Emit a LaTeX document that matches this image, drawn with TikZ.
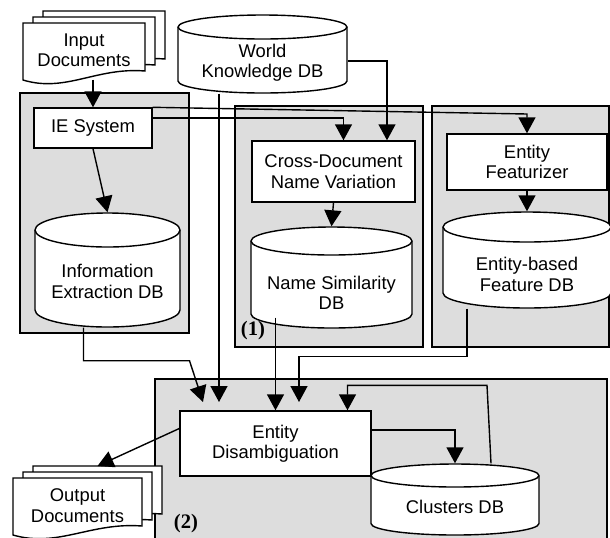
\documentclass[tikz,border=0pt]{standalone}
\usepackage{fontspec}
\setmainfont{Liberation Sans}
\newfontfamily\numfont{Liberation Serif}
\usetikzlibrary{arrows.meta,calc}

\definecolor{panelgray}{RGB}{221,221,221}

% database drum: name, cx, top, bottom, rx, ry, text y, text
\newcommand{\dbcyl}[8]{%
	\draw[fill=white] (#2-#5,#3+#6) -- (#2-#5,#4-#6)
		arc[start angle=180,end angle=360,x radius=#5*0.5pt,y radius=#6*0.5pt]
		-- (#2+#5,#3+#6)
		arc[start angle=0,end angle=180,x radius=#5*0.5pt,y radius=#6*0.5pt] -- cycle;
	\draw (#2-#5,#3+#6) arc[start angle=180,end angle=360,x radius=#5*0.5pt,y radius=#6*0.5pt];
	\node[inner sep=0pt,minimum width=#5*1pt,minimum height=(#4-#3)*0.5pt] (#1) at (#2,{(#3+#4)/2}) {};
	\node[txt] (#1-t) at (#2,#7) {#8};
}
% one sheet: left, top, width
\newcommand{\docsheet}[3]{%
	\draw[fill=white] (#1,#2) -- (#1+#3,#2) -- (#1+#3,#2+48)
		.. controls (#1+0.6*#3,#2+44) and (#1+0.35*#3,#2+70) .. (#1,#2+57) -- cycle;
}
\newcommand{\docstack}[5]{%
	\docsheet{#2+20}{#3-12}{#4}
	\docsheet{#2+10}{#3-6}{#4}
	\docsheet{#2}{#3}{#4}
	\node[txt,minimum width=#4*0.5pt,minimum height=28.5pt] (#1) at (#2+#4/2,#3+27.5) {#5};
	\coordinate (#1 back) at (#2+20+#4/2,#3-12);
}

\begin{document}
\begin{tikzpicture}[x=0.5pt,y=-0.5pt,line width=0.7pt,
		txt/.style={font=\fontsize{9.2}{10.2}\selectfont,align=center,inner sep=0pt},
		box/.style={draw,fill=white,txt},
		panel/.style={draw,fill=panelgray},
		arr/.style={-{Triangle[length=8pt,width=8.5pt]}},
		tag/.style={font=\numfont\fontsize{10.3}{11}\selectfont\bfseries,inner sep=0pt}]
	\useasboundingbox (0,0) rectangle (610,537);
	\clip (0,0) rectangle (610,537);

	\draw[panel] (20,93) rectangle (189,333);
	\draw[panel] (235,106) rectangle (423,347);
	\draw[panel] (432,106) rectangle (609,347);
	\draw[panel] (155,379) rectangle (607,545);

	\docstack{indoc}{23}{23}{122}{Input\\Documents}
	\docstack{outdoc}{13}{478}{129}{Output\\Documents}

	\node[box,minimum width=59pt,minimum height=20pt] (ie) at (93,128) {IE System};
	\node[box,minimum width=81.5pt,minimum height=30.5pt] (cross) at (333.5,171.5) {Cross-Document\\Name Variation};
	\node[box,minimum width=80pt,minimum height=28pt] (feat) at (527,162) {Entity\\Featurizer};
	\node[box,minimum width=95.5pt,minimum height=32.5pt] (ed) at (275.5,443.5) {Entity\\Disambiguation};

	\dbcyl{world}{262.5}{15}{93}{84.5}{12}{62.5}{World\\Knowledge DB}
	\dbcyl{iedb}{107.5}{213}{327}{72.5}{17}{281.5}{Information\\Extraction DB}
	\dbcyl{ns}{331.5}{227}{328}{80.5}{14}{293}{Name Similarity\\DB}
	\dbcyl{ef}{527}{212}{308}{84}{15}{274.5}{Entity-based\\Feature DB}
	\dbcyl{cl}{455}{464}{535}{84}{11.5}{507.3}{Clusters DB}

	\node[tag] (tag1) at (253,331) {(1)};
	\node[tag] (tag2) at (186,524) {(2)};

	\coordinate (in1) at (203,402);
	\coordinate (in2) at (219,402);
	\coordinate (in4) at (299,402);
	\coordinate (featin) at (527,114);

	\draw[arr] (ie.north |- indoc.south) -- (ie.north);
	\draw[arr] (ie.south) -- (iedb.north);
	\draw[arr] (ie.north east) -- (featin) -- (feat.north);
	\draw[arr] ([yshift=5pt]ie.east) -| ([xshift=5pt]cross.north);
	\draw[arr] ([yshift=-3.5pt]world.east) -| ([xshift=26.75pt]cross.north);
	\draw[arr] (cross.south) -- (ns.north);
	\draw[arr] (feat.south) -- (ef.north);

	\draw[arr] ([xshift=-21.75pt]world.south) -- (in2);
	\draw[arr] ([xshift=-12pt]iedb.south) -- ++(0,33) -- ++(106,0) -- (in1);
	\draw[arr] ($(ed.north |- ns.south)+(0,-11)$) -- (ed.north);
	\draw[arr] ([xshift=-30pt]ef.south) -- ++(0,48) -| (in4);

	\draw[arr] ([yshift=6.75pt]ed.east) -| (cl.north);
	\draw[arr] ([xshift=18pt]cl.north) -- ++(-4,-78) -| ([xshift=36pt]ed.north);
	\draw[arr] ([yshift=7.5pt]ed.west) -- (outdoc back);
\end{tikzpicture}
\end{document}
